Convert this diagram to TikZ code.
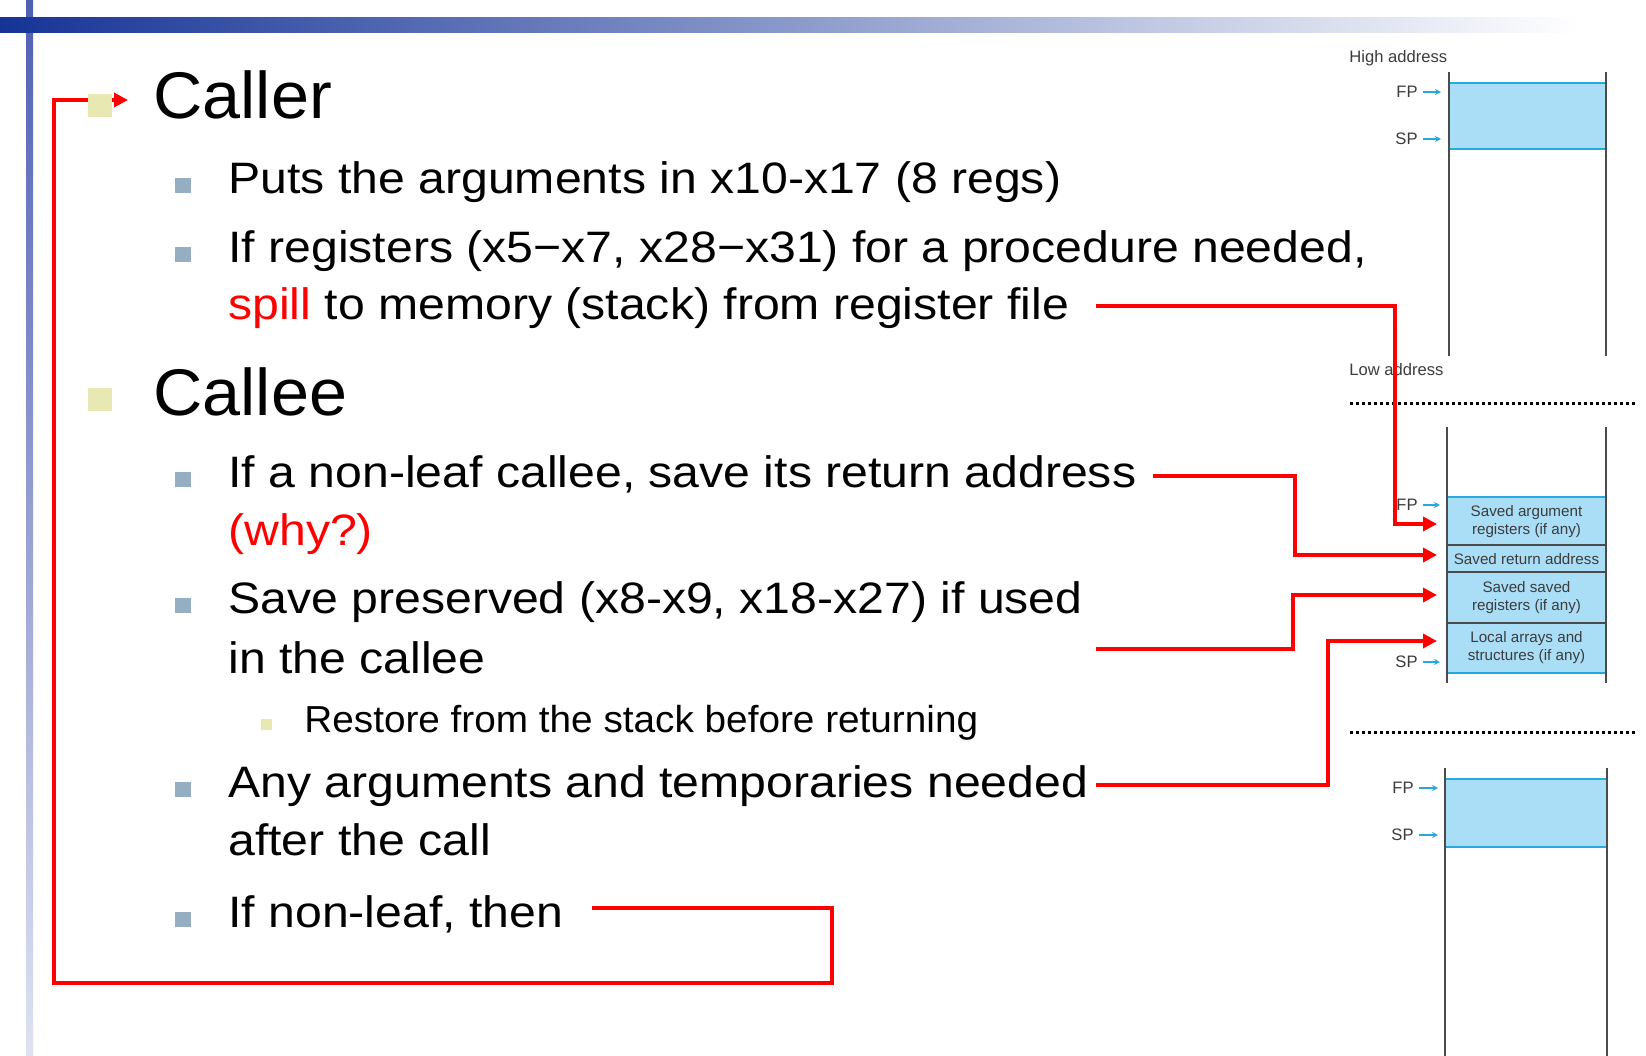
\documentclass[tikz,border=0pt]{standalone}
\usepackage{fontspec}
\setmainfont{Liberation Sans}
\newfontfamily\bodyfont[FakeStretch=1.095]{Liberation Sans}
\newfontfamily\headfont[FakeStretch=1.035]{Liberation Sans}
\newfontfamily\subfont[FakeStretch=1.03]{Liberation Sans}
\usetikzlibrary{arrows.meta}
\definecolor{bulgray}{RGB}{150,174,194}
\definecolor{bulyel}{RGB}{232,232,178}
\definecolor{stackfill}{RGB}{170,222,246}
\definecolor{stackedge}{RGB}{40,168,224}
\definecolor{stackline}{RGB}{75,75,75}
\definecolor{lblgray}{RGB}{60,60,60}
\definecolor{barblue}{RGB}{22,52,150}
\definecolor{vbartop}{RGB}{80,96,178}
\definecolor{vbarbot}{RGB}{222,226,242}
\tikzset{
  txt/.style={anchor=base west, inner sep=0pt, font=\bodyfont\fontsize{22pt}{26pt}\selectfont},
  headtxt/.style={anchor=base west, inner sep=0pt, font=\headfont\fontsize{33pt}{38pt}\selectfont},
  subtxt/.style={anchor=base west, inner sep=0pt, font=\subfont\fontsize{18.8pt}{22pt}\selectfont},
  bulg/.style={fill=bulgray, inner sep=0pt, minimum width=8pt, minimum height=7.5pt},
  buly/.style={fill=bulyel, inner sep=0pt, minimum width=12pt, minimum height=11.5pt},
  bulys/.style={fill=bulyel, inner sep=0pt, minimum size=5.5pt},
  redln/.style={draw=red, line width=1.75pt},
  redarr/.style={redln, -{Triangle[length=7pt,width=7pt]}},
  lbl/.style={inner sep=0pt, text=lblgray, font=\fontsize{8.3pt}{10pt}\selectfont},
  cellt/.style={inner sep=0pt, align=center, text=lblgray, font=\fontsize{7.6pt}{9pt}\selectfont},
  ptr/.style={draw=stackedge, line width=0.6pt, shorten <=2.5pt, -{Stealth[length=3pt,width=3pt]}},
  edge/.style={draw=stackedge, line width=1.2pt},
  sline/.style={draw=stackline, line width=0.9pt},
  dots/.style={draw=black, line width=1.5pt, dash pattern=on 1.5pt off 1.5pt}
}
\begin{document}
\begin{tikzpicture}[x=0.5pt,y=-0.5pt]
\useasboundingbox (0,0) rectangle (1646,1056);
\fill[white] (0,0) rectangle (1646,1056);
% decorative bars
\fill[top color=vbartop, bottom color=vbarbot] (26,0) rectangle (33,1056);
\fill[left color=barblue, right color=white] (0,17) rectangle (1580,32);

% ---------- red connectors (drawn first, under bullets) ----------
\coordinate (loopstart) at (592,908);
\coordinate (loopr) at (832,908);
\coordinate (loopbr) at (832,983);
\coordinate (loopbl) at (54,983);
\coordinate (looptl) at (54,100);
\coordinate (callertip) at (128,100);
\draw[redarr] (loopstart) -- (loopr) -- (loopbr) -- (loopbl) -- (looptl) -- (callertip);

% ---------- bullets ----------
\node[buly] (b0) at (100,105.5) {};
\node[bulg] (b1) at (183,185) {};
\node[bulg] (b2) at (183,254) {};
\node[buly] (b3) at (100,399) {};
\node[bulg] (b4) at (183,479) {};
\node[bulg] (b5) at (183,605.5) {};
\node[bulys] (b6) at (266.5,724.5) {};
\node[bulg] (b7) at (183,789.5) {};
\node[bulg] (b8) at (183,919) {};

% ---------- texts ----------
\node[headtxt] (caller) at (153,118) {Caller};
\node[txt] (puts) at (228,193) {Puts the arguments in x10-x17 (8 regs)};
\node[txt] (ifreg) at (228,262) {If registers (x5−x7, x28−x31) for a procedure needed,};
\node[txt] (spill) at (228,319) {\textcolor{red}{spill} to memory (stack) from register file};
\node[headtxt] (callee) at (153,415) {Callee};
\node[txt] (nonleaf) at (228,487) {If a non-leaf callee, save its return address};
\node[txt, text=red] (why) at (228,545) {(why?)};
\node[txt] (savep) at (228,613) {Save preserved (x8-x9, x18-x27) if used};
\node[txt] (incallee) at (228,673) {in the callee};
\node[subtxt] (restore) at (304,732) {Restore from the stack before returning};
\node[txt] (anyarg) at (228,797) {Any arguments and temporaries needed};
\node[txt] (after) at (228,855) {after the call};
\node[txt] (ifnl) at (228,927) {If non-leaf, then};

% ---------- stack 1 ----------
\node[lbl, anchor=base west] (high) at (1349,62) {High address};
\fill[stackfill] (1449,83) rectangle (1606,149);
\draw[edge] (1449,83) -- (1606,83);
\draw[edge] (1449,149) -- (1606,149);
\draw[sline] (1449,72) -- (1449,356);
\draw[sline] (1606,72) -- (1606,356);
\node[lbl, anchor=east] (fp1) at (1418,92) {FP};
\node[lbl, anchor=east] (sp1) at (1418,139) {SP};
\coordinate (fp1t) at (1441,92);
\coordinate (sp1t) at (1441,139);
\draw[ptr] (fp1) -- (fp1t);
\draw[ptr] (sp1) -- (sp1t);
\node[lbl, anchor=base west] (low) at (1349,375) {Low address};

\draw[dots] (1350,403) -- (1637,403);

% ---------- stack 2 ----------
\fill[stackfill] (1447,497) rectangle (1606,673);
\draw[sline] (1447,545) -- (1606,545);
\draw[sline] (1447,572) -- (1606,572);
\draw[sline] (1447,623) -- (1606,623);
\draw[edge] (1447,497) -- (1606,497);
\draw[edge] (1447,673) -- (1606,673);
\draw[sline] (1447,427) -- (1447,683);
\draw[sline] (1606,427) -- (1606,683);
\node[cellt] (c1) at (1526.5,521.5) {Saved argument\\registers (if any)};
\node[cellt] (c2) at (1526.5,559) {Saved return address};
\node[cellt] (c3) at (1526.5,598) {Saved saved\\registers (if any)};
\node[cellt] (c4) at (1526.5,648) {Local arrays and\\structures (if any)};
\node[lbl, anchor=east] (fp2) at (1418,505) {FP};
\node[lbl, anchor=east] (sp2) at (1418,662) {SP};
\coordinate (fp2t) at (1440,505);
\coordinate (sp2t) at (1440,662);
\draw[ptr] (fp2) -- (fp2t);
\draw[ptr] (sp2) -- (sp2t);

\draw[dots] (1350,732) -- (1637,732);

% ---------- stack 3 ----------
\fill[stackfill] (1445,779) rectangle (1607,847);
\draw[edge] (1445,779) -- (1607,779);
\draw[edge] (1445,847) -- (1607,847);
\draw[sline] (1445,768) -- (1445,1056);
\draw[sline] (1607,768) -- (1607,1056);
\node[lbl, anchor=east] (fp3) at (1414,788) {FP};
\node[lbl, anchor=east] (sp3) at (1414,835) {SP};
\coordinate (fp3t) at (1438,788);
\coordinate (sp3t) at (1438,835);
\draw[ptr] (fp3) -- (fp3t);
\draw[ptr] (sp3) -- (sp3t);

% ---------- red connectors to the stack ----------
\coordinate (s1) at (1096,306);
\coordinate (s1c) at (1395,306);
\coordinate (s1d) at (1395,524);
\coordinate (t1) at (1437,524);
\draw[redarr] (s1) -- (s1c) -- (s1d) -- (t1);

\coordinate (s2) at (1153,476);
\coordinate (s2c) at (1295,476);
\coordinate (s2d) at (1295,555);
\coordinate (t2) at (1437,555);
\draw[redarr] (s2) -- (s2c) -- (s2d) -- (t2);

\coordinate (s3) at (1096,649);
\coordinate (s3c) at (1293,649);
\coordinate (s3d) at (1293,595);
\coordinate (t3) at (1437,595);
\draw[redarr] (s3) -- (s3c) -- (s3d) -- (t3);

\coordinate (s4) at (1096,785);
\coordinate (s4c) at (1328,785);
\coordinate (s4d) at (1328,641);
\coordinate (t4) at (1437,641);
\draw[redarr] (s4) -- (s4c) -- (s4d) -- (t4);
\end{tikzpicture}
\end{document}
